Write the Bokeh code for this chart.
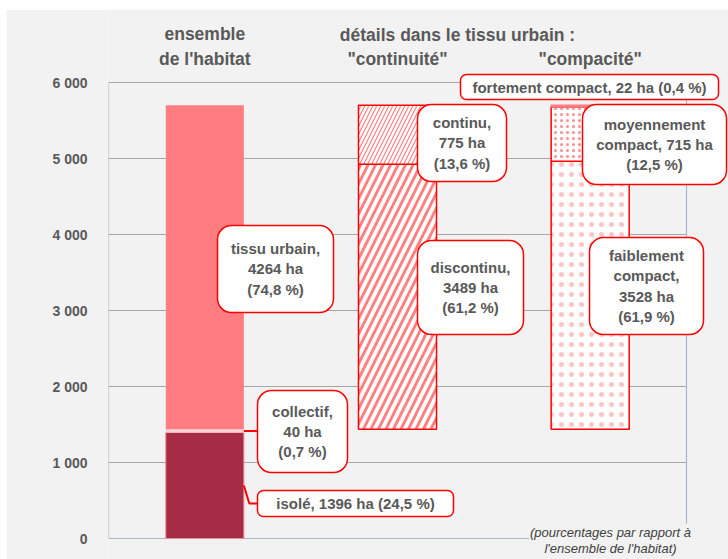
import math
from bokeh.plotting import figure
from bokeh.models import Range1d, FixedTicker, BoxAnnotation, Label
from bokeh.embed import file_html
from bokeh.resources import INLINE
from bokeh.core.properties import value

# ---------------- data ----------------
group_headers = ["ensemble\nde l'habitat", "\"continuité\"", "\"compacité\""]
super_header = "détails dans le tissu urbain :"

ens_names = ["isolé", "collectif", "tissu urbain"]
ens_values = [1396, 40, 4264]
ens_pct = ["24,5", "0,7", "74,8"]

cont_names = ["discontinu", "continu"]
cont_values = [3489, 775]
cont_pct = ["61,2", "13,6"]

comp_names = ["faiblement compact", "moyennement compact", "fortement compact"]
comp_values = [3528, 715, 22]
comp_pct = ["61,9", "12,5", "0,4"]

y_ticks = [0, 1000, 2000, 3000, 4000, 5000, 6000]
y_tick_labels = ["0", "1 000", "2 000", "3 000", "4 000", "5 000", "6 000"]
y_title = "habitat en 2015 (en ha)"
note_text = "(pourcentages par rapport à\nl'ensemble de l'habitat)"

# ---------------- layout / style ----------------
MX, MY = 6, 9            # figure offset inside the page (panel margin)
W, H = 728 - MX, 559 - MY
FRAME_L = 108            # frame left, page px
PX_X = 578 / 3.0
PX_Y = 456 / 6000.0
OX, OY = FRAME_L, 538    # page px of data origin


def X(px):
    return (px - OX) / PX_X


def Y(py):
    return (OY - py) / PX_Y


BG = "#f2f2f2"
TXT = "#595959"
RED = "#ff0000"
SALMON = "#ff7c80"
DARK = "#a62b45"
AXC = "#a9b7cc"
GRIDC = "#a6a6a6"
FONT = "Liberation Sans"
BW = 0.405

p = figure(width=W, height=H, output_backend="svg", toolbar_location=None,
           x_range=Range1d(X(FRAME_L), X(MX + W)), y_range=Range1d(Y(MY + H), Y(MY)),
           min_border_left=FRAME_L - MX, min_border_right=0, min_border_top=0,
           min_border_bottom=0,
           styles={"margin-left": f"{MX}px", "margin-top": f"{MY}px"})
p.background_fill_color = BG
p.border_fill_color = BG
p.outline_line_color = None
p.xaxis.visible = False
p.xgrid.visible = False
p.ygrid.visible = False

ya = p.yaxis[0]
ya.ticker = FixedTicker(ticks=y_ticks)
ya.major_label_overrides = {t: l for t, l in zip(y_ticks, y_tick_labels)}
ya.axis_line_color = None
ya.major_tick_line_color = None
ya.minor_tick_line_color = None
ya.major_label_standoff = 15
ya.major_label_text_font = FONT
ya.major_label_text_font_style = "bold"
ya.major_label_text_font_size = "14px"
ya.major_label_text_color = TXT

ngroups = len(group_headers)
xc = [i + 0.5 for i in range(ngroups)]

# gridlines and plot border
p.segment(x0=[0] * (len(y_ticks) - 1), x1=[ngroups] * (len(y_ticks) - 1),
          y0=y_ticks[1:], y1=y_ticks[1:], line_color=GRIDC, line_width=1)
p.segment(x0=[0, ngroups, 0], x1=[0, ngroups, ngroups],
          y0=[0, 0, 0], y1=[y_ticks[-1], y_ticks[-1], 0], line_color=AXC, line_width=1.2)


def stack(vals, base=0):
    bots, tops = [], []
    c = base
    for v in vals:
        bots.append(c)
        c += v
        tops.append(c)
    return bots, tops


# bar 1 : ensemble de l'habitat
eb, et = stack(ens_values)
p.vbar(x=[xc[0]] * 3, bottom=eb, top=et, width=BW,
       fill_color=[DARK, "#ffd3d5", SALMON], line_color=["#f08a96", None, None], line_width=1)

base = ens_values[0] + ens_values[1]

# bar 2 : continuité
cb, ct = stack(cont_values, base)
p.vbar(x=xc[1], bottom=cb[0], top=ct[0], width=BW, fill_color="white",
       hatch_pattern="/", hatch_color="#ff8080", hatch_scale=15, hatch_weight=2.8,
       line_color=RED, line_width=1.5)
p.vbar(x=xc[1], bottom=cb[1], top=ct[1], width=BW, fill_color="white",
       hatch_pattern="/", hatch_color="#ff8080", hatch_scale=8, hatch_weight=1.2,
       line_color=RED, line_width=1.5)

# bar 3 : compacité
kb, kt = stack(comp_values, base)
p.vbar(x=xc[2], bottom=kb[0], top=kt[0], width=BW, fill_color="white",
       hatch_pattern=".", hatch_color="#ff3030", hatch_alpha=0.28, hatch_scale=10,
       hatch_weight=0.5, line_color=RED, line_width=1.5)
p.vbar(x=xc[2], bottom=kb[1], top=kt[1], width=BW, fill_color="white",
       hatch_pattern=".", hatch_color="#ff3030", hatch_alpha=0.55, hatch_scale=6,
       hatch_weight=0.5, line_color=RED, line_width=1.5)
p.vbar(x=xc[2], bottom=kb[2], top=kt[2], width=BW, fill_color=SALMON,
       line_color=SALMON, line_width=1.5)

# ---------------- callouts ----------------
def lbl(n, v, pc, fmt):
    parts = n.split(" ")
    return fmt.format(n=n, a=parts[0], b=" ".join(parts[1:]), v=v, p=pc)


callouts = [
    (lbl(ens_names[2], ens_values[2], ens_pct[2], "{n},\n{v} ha\n({p} %)"), (217, 225, 333, 312), 14),
    (lbl(ens_names[1], ens_values[1], ens_pct[1], "{n},\n{v} ha\n({p} %)"), (257, 390, 347, 472), 14),
    (lbl(ens_names[0], ens_values[0], ens_pct[0], "{n}, {v} ha ({p} %)"), (257, 490, 453, 516), 6),
    (lbl(cont_names[1], cont_values[1], cont_pct[1], "{n},\n{v} ha\n({p} %)"), (417, 104, 506, 181), 14),
    (lbl(cont_names[0], cont_values[0], cont_pct[0], "{n},\n{v} ha\n({p} %)"), (417, 240, 523, 334), 14),
    (lbl(comp_names[2], comp_values[2], comp_pct[2], "{n}, {v} ha ({p} %)"), (460, 74, 718, 99), 6),
    (lbl(comp_names[1], comp_values[1], comp_pct[1], "{a}\n{b}, {v} ha\n({p} %)"), (582, 104, 726, 184), 14),
    (lbl(comp_names[0], comp_values[0], comp_pct[0], "{a}\n{b},\n{v} ha\n({p} %)"), (589, 237, 703, 334), 14),
]

tx, ty, tt = [], [], []
for text, (l, t, r, b), rad in callouts:
    p.add_layout(BoxAnnotation(left=X(l), right=X(r), top=Y(t), bottom=Y(b),
                               fill_color="white", fill_alpha=1, line_color=RED,
                               line_width=1.5, line_alpha=1, border_radius=rad))
    tx.append(X((l + r) / 2))
    ty.append(Y((t + b) / 2))
    tt.append(text)

tr = p.text(x=tx, y=ty, text=tt, text_align="center", text_baseline="middle",
            text_font=value(FONT), text_font_style="bold", text_font_size="15px",
            text_color=TXT, text_line_height=1.2)
tr.level = "overlay"

# connectors for collectif and isolé
bar_r = xc[0] + BW / 2
p.line(x=[bar_r, X(257)], y=[eb[1] + ens_values[1] / 2] * 2, line_color=RED, line_width=2)
p.line(x=[bar_r, bar_r + (X(257) - bar_r) * 0.4, X(257)],
       y=[eb[0] + ens_values[0] / 2, Y(503), Y(503)], line_color=RED, line_width=2)

# ---------------- headers ----------------
p.text(x=[xc[0], xc[1], xc[2]], y=[Y(46)] * 3,
       text=[group_headers[0], "\n" + group_headers[1], "\n" + group_headers[2]],
       text_align="center", text_baseline="middle", text_font=value(FONT),
       text_font_style="bold", text_font_size="17.5px", text_color=TXT, text_line_height=1.25)
p.text(x=[X(457)], y=[Y(34)], text=[super_header], text_align="center",
       text_baseline="middle", text_font=value(FONT), text_font_style="bold",
       text_font_size="17.5px", text_color=TXT)

# y title
p.add_layout(Label(x=X(35), y=Y(296), text=y_title, angle=math.pi / 2,
                   text_align="center", text_baseline="middle",
                   text_font=FONT, text_font_style="bold",
                   text_font_size="21px", text_color=TXT))

# note
p.add_layout(Label(x=X(610), y=Y(523), text=note_text, text_align="center",
                   text_baseline="top", text_font=FONT, text_font_style="italic",
                   text_font_size="13px", text_color="#404040", text_line_height=1.1,
                   background_fill_color=BG, background_fill_alpha=1, padding=1))

open("out.html", "w").write(file_html(p, INLINE))
